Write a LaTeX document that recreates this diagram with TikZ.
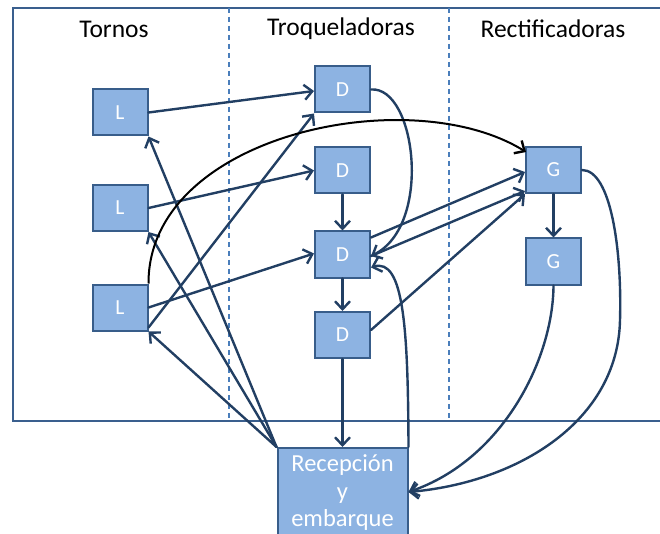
\documentclass[tikz,border=0pt]{standalone}
\usepackage{fontspec}
\setmainfont{Carlito}
\usetikzlibrary{arrows.meta,calc}
\definecolor{boxfill}{HTML}{8DB3E2}
\definecolor{boxline}{HTML}{385D8A}
\definecolor{flow}{HTML}{223F63}
\definecolor{divider}{HTML}{4A7EBB}
\definecolor{framecol}{HTML}{3A5F8E}

\begin{document}
\begin{tikzpicture}[x=1pt,y=-1pt,
  machine/.style={draw=boxline, fill=boxfill, line width=2pt,
    minimum width=55pt, minimum height=46pt, inner sep=0pt,
    text=white, font=\fontsize{21.5}{24}\selectfont},
  dock/.style={draw=boxline, fill=boxfill, line width=2pt,
    minimum width=130pt, minimum height=90pt, inner sep=0pt,
    align=center, text=white, font=\fontsize{24.5}{27.5}\selectfont},
  heading/.style={text=black, font=\fontsize{25.5}{28}\selectfont},
  framerule/.style={draw=framecol, line width=2.5pt},
  lane/.style={draw=divider, line width=1.1pt, dash pattern=on 5pt off 4pt},
  flowline/.style={draw=flow, line width=2.4pt, line cap=round,
    -{Straight Barb[length=8pt,width=15pt,line width=2.4pt]}},
  bigloop/.style={draw=black, line width=2pt,
    -{Straight Barb[length=8pt,width=15pt,line width=2.4pt]}}]

\useasboundingbox (0,0) rectangle (660,534);
\clip (0,0) rectangle (660,534);

% frame and lanes
\draw[framerule] (665,8) -- (13,8) -- (13,421) -- (665,421);
\coordinate (laneAtop) at (229,8);
\coordinate (laneAbot) at (229,421);
\coordinate (laneBtop) at (449,8);
\coordinate (laneBbot) at (449,421);
\draw[lane] (laneAtop) -- (laneAbot);
\draw[lane] (laneBtop) -- (laneBbot);

% lane titles
\node[heading] (tornos) at (114,29) {Tornos};
\node[heading] (troq) at (341,29) {Troqueladoras};
\node[heading] (rect) at (553,29) {Rectificadoras};

% machines
\node[machine] (L1) at (120,112.5) {L};
\node[machine] (L2) at (120,208) {L};
\node[machine] (L3) at (120,307.5) {L};
\node[machine] (D1) at (342.5,89.5) {D};
\node[machine] (D2) at (342.5,170.5) {D};
\node[machine] (D3) at (342.5,254.5) {D};
\node[machine] (D4) at (342.5,335) {D};
\node[machine] (G1) at (553.5,170) {G};
\node[machine] (G2) at (553.5,261.5) {G};
\node[dock] (R) at (342.5,493) {Recepción\\y\\embarque};

% lathes to punch presses
\draw[flowline] (L1.east) -- ($(D1.west)+(0,1.5)$);
\draw[flowline] (L2.east) -- (D2.west);
\draw[flowline] (L3.east) -- ($(D3.west)+(0,-1)$);
\draw[flowline] ($(L3.south east)+(0,-4)$) -- (D1.south west);

% reception back to lathes
\draw[flowline] (R.north west) -- (L1.south east);
\draw[flowline] (R.north west) -- (L2.south east);
\draw[flowline] (R.north west) -- (L3.south east);

% punch press column
\draw[flowline] (D2) -- (D3);
\draw[flowline] (D3) -- (D4);
\draw[flowline] (D4) -- (R);
\draw[flowline] (D1.east) .. controls (416,86) and (433,226) .. ($(D3.east)+(0,1.5)$);
\draw[flowline] (R.north east) .. controls (408,330) and (404,257) .. ($(D3.east)+(0,13)$);

% punch presses to grinders
\draw[flowline] ($(D3.east)+(0,-17)$) -- ($(G1.west)+(0,2)$);
\draw[flowline] ($(D3.east)+(0,1.5)$) -- ($(G1.south west)+(0,-3)$);
\draw[flowline] ($(D4.east)+(0,-5)$) -- (G1.south west);

% grinders
\draw[flowline] (G1) -- (G2);
\draw[flowline] (G1.east) .. controls (611,170) and (622,250) .. (620,320)
  .. controls (618,420) and (520,482) .. ($(R.east)+(0,-1)$);
\draw[flowline] (G2.south) .. controls (553,360) and (502,460) .. ($(R.east)+(0,-1)$);

% long loop from the lower lathe to the first grinder
\draw[bigloop] (L3.north east) .. controls (148,135) and (410,80) .. ($(G1.north west)+(1,6)$);
\end{tikzpicture}
\end{document}
